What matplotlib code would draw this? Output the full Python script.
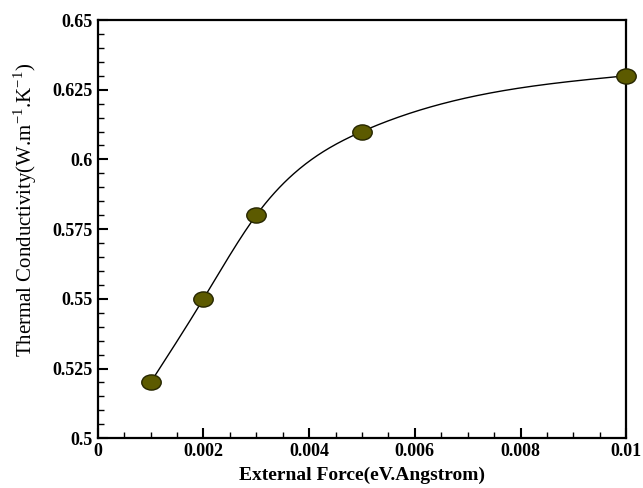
import numpy as np
import matplotlib
matplotlib.use("Agg")
import matplotlib.pyplot as plt
from matplotlib.ticker import MultipleLocator, FixedFormatter, FixedLocator
from matplotlib.path import Path
from matplotlib.transforms import Affine2D

force = [0.001, 0.002, 0.003, 0.005, 0.01]
conductivity = [0.52, 0.55, 0.58, 0.61, 0.63]
xtick_labels = ["0", "0.002", "0.004", "0.006", "0.008", "0.01"]
ytick_labels = ["0.5", "0.525", "0.55", "0.575", "0.6", "0.625", "0.65"]

def natural_spline(x, y, xs):
    x = np.asarray(x, float); y = np.asarray(y, float)
    n = len(x)
    h = np.diff(x)
    A = np.zeros((n, n)); b = np.zeros(n)
    A[0, 0] = 1; A[-1, -1] = 1
    for i in range(1, n - 1):
        A[i, i - 1] = h[i - 1]
        A[i, i] = 2 * (h[i - 1] + h[i])
        A[i, i + 1] = h[i]
        b[i] = 3 * ((y[i + 1] - y[i]) / h[i] - (y[i] - y[i - 1]) / h[i - 1])
    c = np.linalg.solve(A, b)
    out = np.empty_like(xs)
    for k, xv in enumerate(xs):
        i = min(max(np.searchsorted(x, xv) - 1, 0), n - 2)
        dx = xv - x[i]
        bi = (y[i + 1] - y[i]) / h[i] - h[i] * (2 * c[i] + c[i + 1]) / 3
        di = (c[i + 1] - c[i]) / (3 * h[i])
        out[k] = y[i] + bi * dx + c[i] * dx ** 2 + di * dx ** 3
    return out

plt.rcParams['font.family'] = ['Liberation Serif', 'DejaVu Serif']
plt.rcParams['mathtext.fontset'] = 'custom'
plt.rcParams['mathtext.rm'] = 'Liberation Serif'

fig = plt.figure(figsize=(6.43, 4.88), dpi=100)
ax = fig.add_axes([0.152, 0.102, 0.822, 0.857])

ellipse = Path.unit_circle().transformed(Affine2D().scale(1.0, 0.78))

xs = np.linspace(force[0], force[-1], 400)
ax.plot(xs, natural_spline(force, conductivity, xs), color='black', lw=1.0, zorder=2)
ax.plot(force, conductivity, linestyle='none', marker=ellipse, ms=14, mfc='#5c5a00', mec='#262600', mew=1.0, zorder=3, clip_on=False)

ax.set_xlim(0, 0.01)
ax.set_ylim(0.5, 0.65)
ax.xaxis.set_major_locator(FixedLocator([0, 0.002, 0.004, 0.006, 0.008, 0.01]))
ax.xaxis.set_major_formatter(FixedFormatter(xtick_labels))
ax.yaxis.set_major_locator(FixedLocator([0.5, 0.525, 0.55, 0.575, 0.6, 0.625, 0.65]))
ax.yaxis.set_major_formatter(FixedFormatter(ytick_labels))
ax.xaxis.set_minor_locator(MultipleLocator(0.0005))
ax.yaxis.set_minor_locator(MultipleLocator(0.005))
ax.tick_params(which='both', direction='in', top=False, right=False, labelsize=13)
ax.tick_params(which='major', length=7, width=1.5)
ax.tick_params(which='minor', length=4, width=1.0)
for lbl in ax.get_xticklabels() + ax.get_yticklabels():
    lbl.set_fontweight('bold')
for s in ax.spines.values():
    s.set_linewidth(1.6)

ax.set_xlabel('External Force(eV.Angstrom)', fontsize=14, fontweight='bold', labelpad=5)
ax.set_ylabel(r'Thermal Conductivity(W.m$^{\mathrm{-1}}$.K$^{\mathrm{-1}}$)', fontsize=15)
ax.yaxis.set_label_coords(-0.112, 0.545)

fig.savefig('out.png', dpi=100)
